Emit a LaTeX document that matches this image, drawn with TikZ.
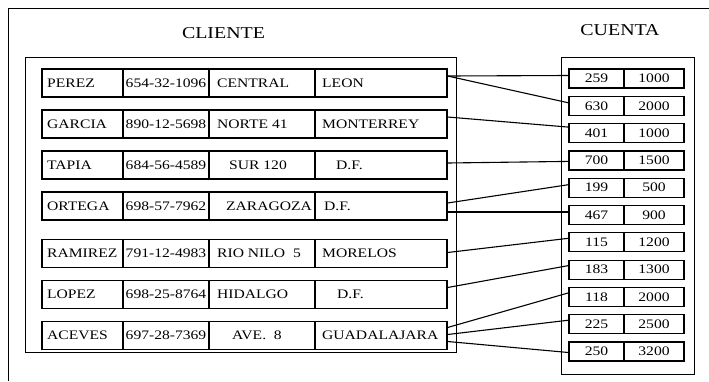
\documentclass[tikz,border=0pt]{standalone}
\usepackage{fontspec}
\setmainfont{Liberation Serif}[FakeStretch=1.2]
\begin{document}
\begin{tikzpicture}[x=1pt,y=-1pt,
  marco/.style={draw,line width=1pt},
  fila/.style={draw,line width=1.2pt,minimum width=405pt,minimum height=28pt,inner sep=0pt},
  cta/.style={draw,line width=1.2pt,minimum width=115pt,minimum height=19pt,inner sep=0pt},
  dato/.style={font=\fontsize{13}{14}\selectfont,inner sep=0pt},
  titulo/.style={font=\fontsize{16.6}{17}\selectfont,inner sep=0pt},
  liga/.style={line width=1.1pt}]
  \useasboundingbox (0,0) rectangle (709,381);
  \draw[marco] (8,381) -- (8,8) -- (709,8);
  \node[titulo] (tcli) at (223.5,33.5) {CLIENTE};
  \node[titulo] (tcta) at (620,30) {CUENTA};
  \node[marco,minimum width=431pt,minimum height=295pt] (cliente) at (240.5,204.5) {};
  \node[marco,minimum width=133pt,minimum height=317pt] (cuenta) at (627.5,215.5) {};
  % tabla cliente
  \foreach \i/\y/\nom/\tel/\calle/\ciudad in {
      1/83/PEREZ/654-32-1096/CENTRAL/LEON,
      2/124/GARCIA/890-12-5698/NORTE 41/MONTERREY,
      3/165/TAPIA/684-56-4589/{\hspace{12pt}SUR 120}/{\hspace{14pt}D.F.},
      4/206/ORTEGA/698-57-7962/{\hspace{9pt}ZARAGOZA}/{\hspace{2pt}D.F.},
      5/253.5/RAMIREZ/791-12-4983/RIO NILO\ \ 5/MORELOS,
      6/294.5/LOPEZ/698-25-8764/HIDALGO/{\hspace{15pt}D.F.},
      7/335.5/ACEVES/697-28-7369/{\hspace{15pt}AVE.\ \ 8}/GUADALAJARA} {
    \node[fila] (r\i) at (244.5,\y) {};
    \draw[line width=1.2pt] (123,\y-14) -- (123,\y+14);
    \draw[line width=1.2pt] (209,\y-14) -- (209,\y+14);
    \draw[line width=1.2pt] (315,\y-14) -- (315,\y+14);
    \node[dato,anchor=west] (n\i) at (47,\y) {\nom};
    \node[dato] (t\i) at (166,\y) {\tel};
    \node[dato,anchor=west] (c\i) at (217,\y) {\calle};
    \node[dato,anchor=west] (d\i) at (322,\y) {\ciudad};
  }
  % tabla cuenta
  \foreach \j/\num/\saldo in {1/259/1000, 2/630/2000, 3/401/1000, 4/700/1500,
      5/199/500, 6/467/900, 7/115/1200, 8/183/1300, 9/118/2000, 10/225/2500, 11/250/3200} {
    \pgfmathsetmacro{\yy}{78.5+27.3*(\j-1)}
    \node[cta] (k\j) at (626.5,\yy) {};
    \draw[line width=1.2pt] (624,\yy-9.5) -- (624,\yy+9.5);
    \node[dato] (m\j) at (596.5,\yy) {\num};
    \node[dato] (s\j) at (654,\yy) {\saldo};
  }
  % ligas
  \foreach \a/\da/\b/\db in {1/7/1/3, 1/7/2/3, 2/7/3/6, 3/2/4/-1, 4/3/5/3, 4/-6/6/3,
      5/1/7/4, 6/7/8/4, 7/8/9/4, 7/1/10/4, 7/-6/11/-1}
    \draw[liga] ([yshift=\da pt]r\a.east) -- ([yshift=\db pt]k\b.west);
\end{tikzpicture}
\end{document}
